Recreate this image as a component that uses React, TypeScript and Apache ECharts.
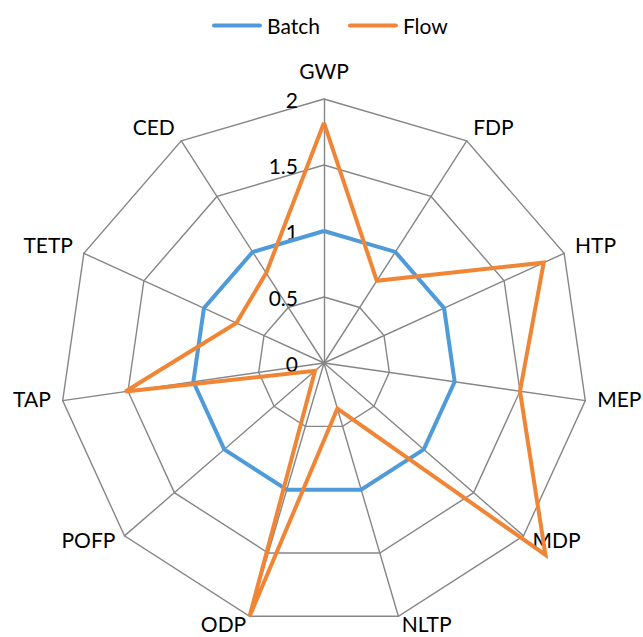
import React, { useEffect, useRef } from "react";
import * as echarts from "echarts";

// Indicators in clockwise order starting from the top
const categories = ["GWP", "FDP", "HTP", "MEP", "MDP", "NLTP", "ODP", "POFP", "TAP", "TETP", "CED"];
const batchValues = [1, 1, 1, 1, 1, 1, 1, 1, 1, 1, 1];
const flowValues = [1.82, 0.74, 1.83, 1.5, 2.22, 0.36, 2.0, 0.09, 1.52, 0.73, 0.81];
const seriesNames = ["Batch", "Flow"];
const axisMin = 0;
const axisMax = 2;
const axisSplits = 4;

const BLUE = "#4F9BD9";
const ORANGE = "#F08536";
const GRID = "#868686";
const FONT = "Lato, 'Open Sans', sans-serif";

// ECharts lays radar indicators counter-clockwise; reorder so they read clockwise
const order = [0, ...categories.map((_, i) => i).slice(1).reverse()];
const reorder = (arr: number[]) => order.map((i) => arr[i]);

export default function App() {
  const ref = useRef<HTMLDivElement>(null);
  useEffect(() => {
    if (!ref.current) return;
    const chart = echarts.init(ref.current, undefined, { renderer: "svg" });
    const legendIcon = "path://M2,0 H48 A2,2 0 0 1 48,4 H2 A2,2 0 0 1 2,0 Z";
    chart.setOption({
      animation: false,
      backgroundColor: "#ffffff",
      legend: {
        data: seriesNames,
        top: 10,
        left: 207,
        itemWidth: 50,
        itemHeight: 5,
        itemGap: 28,
        icon: legendIcon,
        textStyle: { color: "#000", fontSize: 21, fontFamily: FONT },
      },
      radar: {
        center: [324, 363],
        radius: 264,
        startAngle: 90,
        splitNumber: axisSplits,
        shape: "polygon",
        nameGap: 12,
        axisName: {
          color: "#000",
          fontSize: 21,
          fontFamily: FONT,
          formatter: (name: string) => `{n|${name}}`,
          rich: {
            n: {
              color: "#000",
              fontSize: 21,
              fontFamily: FONT,
              lineHeight: 18,
              padding: [0, 0, 8, 0],
            },
          },
        },
        splitLine: { lineStyle: { color: GRID, width: 1.4 } },
        splitArea: { show: false },
        axisLine: { lineStyle: { color: GRID, width: 1.4 } },
        axisTick: { show: false },
        axisLabel: { show: false },
        indicator: order.map((i) => {
          const ind: any = { name: categories[i], min: axisMin, max: axisMax };
          if (i === 0) {
            ind.axisLabel = {
              show: true,
              margin: 26,
              color: "#000",
              fontSize: 21,
              fontFamily: FONT,
            };
          }
          return ind;
        }),
      },
      series: [
        {
          type: "radar",
          symbol: "none",
          data: [
            {
              name: seriesNames[0],
              value: reorder(batchValues),
              lineStyle: { color: BLUE, width: 4, join: "miter" },
              itemStyle: { color: BLUE },
            },
            {
              name: seriesNames[1],
              value: reorder(flowValues),
              lineStyle: { color: ORANGE, width: 4, join: "miter" },
              itemStyle: { color: ORANGE },
            },
          ],
        },
      ],
    });
    return () => chart.dispose();
  }, []);
  return (
    <div
      ref={ref}
      style={{ position: "fixed", left: 0, top: 0, width: 643, height: 637, background: "#fff" }}
    />
  );
}
